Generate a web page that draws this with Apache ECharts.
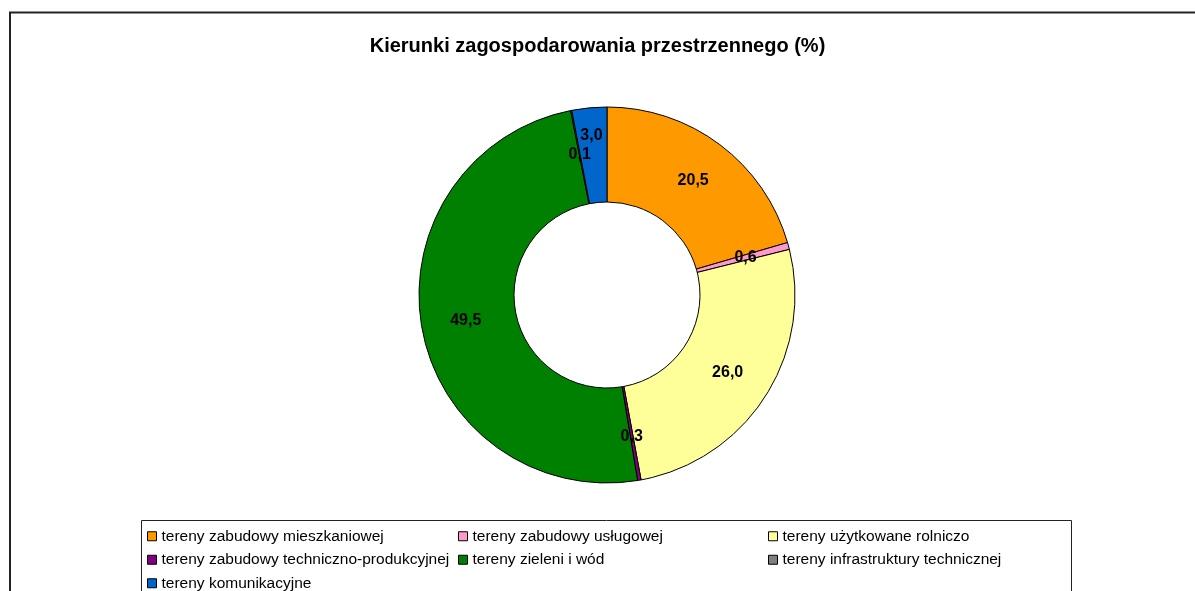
<!DOCTYPE html>
<html>
<head>
<meta charset="utf-8">
<script src="https://cdn.jsdelivr.net/npm/echarts@6/dist/echarts.min.js"></script>
<style>
  html, body { margin: 0; padding: 0; background: #fff; }
  #chart { width: 1195px; height: 591px; }
</style>
</head>
<body>
<div id="chart"></div>
<script>
// land use directions, share in %
const CATEGORIES = [
  'tereny zabudowy mieszkaniowej',
  'tereny zabudowy usługowej',
  'tereny użytkowane rolniczo',
  'tereny zabudowy techniczno-produkcyjnej',
  'tereny zieleni i wód',
  'tereny infrastruktury technicznej',
  'tereny komunikacyjne',
];
const VALUES = [20.5, 0.6, 26.0, 0.3, 49.5, 0.1, 3.0];
const COLORS = ['#FF9900', '#FF99CC', '#FFFF99', '#800080', '#008000', '#808080', '#0066CC'];

const FONT = 'Arial, "Liberation Sans", sans-serif';

// legend laid out in 3 columns like the original
const COLUMN_X = [147, 458, 768];
function legendCol(i) {
  return {
    orient: 'vertical',
    left: COLUMN_X[i],
    top: 527,
    height: 100,
    padding: 0,
    itemGap: 5,
    itemWidth: 9,
    itemHeight: 9,
    itemTextGap: 6,
    icon: 'rect',
    itemStyle: { borderColor: '#000', borderWidth: 1 },
    textStyle: { color: '#000', fontFamily: FONT, fontSize: 15.5, lineHeight: 18.5 },
    data: CATEGORIES.filter((_, k) => k % 3 === i),
    selectedMode: false,
  };
}

const chart = echarts.init(document.getElementById('chart'), null, { renderer: 'canvas' });
chart.setOption({
  animation: false,
  color: COLORS,
  title: {
    text: 'Kierunki zagospodarowania przestrzennego (%)',
    left: 'center',
    top: 31,
    textStyle: { color: '#000', fontFamily: FONT, fontSize: 20, fontWeight: 'bold' },
  },
  graphic: [
    { type: 'rect', shape: { x: 10, y: 12.5, width: 1200, height: 600 },
      style: { fill: 'none', stroke: '#222', lineWidth: 2 }, silent: true },
    { type: 'rect', shape: { x: 141.5, y: 520.5, width: 930, height: 100 },
      style: { fill: 'none', stroke: '#222', lineWidth: 1 }, silent: true },
  ],
  legend: [legendCol(0), legendCol(1), legendCol(2)],
  series: [{
    type: 'pie',
    center: [607, 295],
    radius: [93, 188],
    startAngle: 90,
    clockwise: true,
    avoidLabelOverlap: false,
    itemStyle: { borderColor: '#000', borderWidth: 1 },
    label: {
      show: true,
      position: 'inside',
      color: '#000',
      fontFamily: FONT,
      fontSize: 16,
      fontWeight: 'bold',
      formatter: p => p.value.toFixed(1).replace('.', ','),
    },
    labelLayout: { hideOverlap: false },
    labelLine: { show: false },
    emphasis: { disabled: true },
    data: CATEGORIES.map((name, i) => ({
      name, value: VALUES[i],
      // small slice at the top: label pushed up, as in the original
      label: i === 6 ? { offset: [-2, -17] } : undefined,
    })),
  }],
});
</script>
</body>
</html>
